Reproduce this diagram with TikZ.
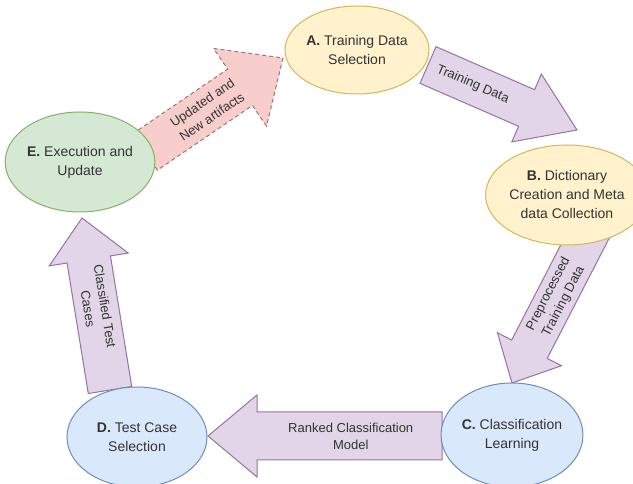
\documentclass[tikz,border=0pt]{standalone}
\usepackage{fontspec}
\setmainfont{Liberation Sans}
\usetikzlibrary{shapes.geometric,calc,backgrounds}

\definecolor{yellowfill}{HTML}{FFF2CC}
\definecolor{yellowline}{HTML}{D6B656}
\definecolor{greenfill}{HTML}{D5E8D4}
\definecolor{greenline}{HTML}{82B366}
\definecolor{bluefill}{HTML}{DAE8FC}
\definecolor{blueline}{HTML}{6C8EBF}
\definecolor{purplefill}{HTML}{E1D5E7}
\definecolor{purpleline}{HTML}{9673A6}
\definecolor{pinkfill}{HTML}{F8CECC}
\definecolor{pinkline}{HTML}{A8706E}
\definecolor{textgray}{HTML}{333333}

\tikzset{
  headlen/.store in=\headlen, headwid/.store in=\headwid, shaftwid/.store in=\shaftwid,
  headlen=48pt, headwid=40pt, shaftwid=22pt,
  stage/.style={ellipse, draw, line width=1pt, minimum width=140pt, minimum height=100pt,
    inner sep=0pt, align=center, text=textgray, font=\fontsize{14}{19}\selectfont},
  yellowstage/.style={stage, fill=yellowfill, draw=yellowline},
  greenstage/.style={stage, fill=greenfill, draw=greenline},
  bluestage/.style={stage, fill=bluefill, draw=blueline},
  flowbody/.style={line width=1pt, line join=miter},
  purpleflow/.style={flowbody, fill=purplefill, draw=purpleline},
  pinkflow/.style={flowbody, fill=pinkfill, draw=pinkline, dash pattern=on 4pt off 3pt},
  flowlabel/.style={align=center, text=textgray, inner sep=0pt, font=\fontsize{13}{17}\selectfont}
}

% block arrow from tail #2 to tip #3, label #5 at pos #4
\newcommand{\flowarrow}[5][]{%
  \path[#1] ($(#3)!\headlen!(#2)$) coordinate (hb);
  \draw[#1] ($(#2)!\shaftwid!90:(#3)$) -- ($(hb)!\shaftwid!90:(#3)$) -- ($(hb)!\headwid!90:(#3)$)
    -- (#3) -- ($(hb)!\headwid!-90:(#3)$) -- ($(hb)!\shaftwid!-90:(#3)$) -- ($(#2)!\shaftwid!-90:(#3)$) -- cycle;
  \path (#2) -- (#3) node[pos=#4, sloped, flowlabel] {#5};
}

\begin{document}
\begin{tikzpicture}[x=1pt,y=1pt]
\useasboundingbox (0,0) rectangle (633,484);
\clip (0,0) rectangle (633,484);

% stages
\node[yellowstage, minimum width=144pt, minimum height=88pt] (A) at (357,434) {\textbf{A.} Training Data\\Selection};
\node[yellowstage] (B) at (567,289) {\textbf{B.} Dictionary\\Creation and Meta\\data Collection};
\node[bluestage, minimum height=104pt] (C) at (512,49) {\textbf{C.} Classification\\Learning};
\node[bluestage] (D) at (137,47) {\textbf{D.} Test Case\\Selection};
\node[greenstage] (E) at (80,322) {\textbf{E.} Execution and\\Update};

% arrow ends
\coordinate (tailEA) at (145,332);
\coordinate (tipEA) at (283,426);
\coordinate (tailAB) at (428,419);
\coordinate (tipAB) at (577,354);
\coordinate (tailBC) at (592,256);
\coordinate (tipBC) at (512,101);
\coordinate (tailCD) at (442,48);
\coordinate (tipCD) at (208,48);
\coordinate (tailDE) at (110,94);
\coordinate (tipDE) at (82,266);

\begin{scope}[on background layer]
\flowarrow[pinkflow, headlen=52pt, headwid=47pt, shaftwid=22pt]{tailEA}{tipEA}{0.45}{Updated and\\New artifacts}
\flowarrow[purpleflow, headlen=55pt, headwid=37pt, shaftwid=20pt]{tailAB}{tipAB}{0.3}{Training Data}
\flowarrow[purpleflow, headlen=38pt, headwid=36pt, shaftwid=20pt]{tailBC}{tipBC}{0.45}{Preprocessed\\Training Data}
\flowarrow[purpleflow, headlen=49pt, headwid=41pt, shaftwid=24pt]{tailCD}{tipCD}{0.39}{Ranked Classification\\Model}
\flowarrow[purpleflow, headlen=42pt, headwid=40pt, shaftwid=22pt]{tailDE}{tipDE}{0.48}{Classified Test\\Cases}
\end{scope}
\end{tikzpicture}
\end{document}
